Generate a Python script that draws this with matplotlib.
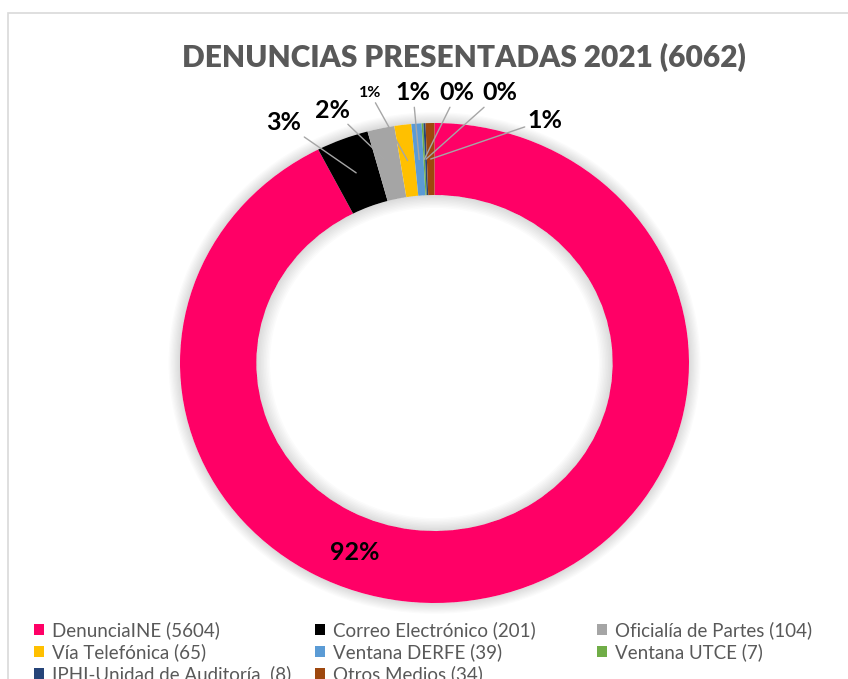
import matplotlib
matplotlib.use('Agg')
import numpy as np
import matplotlib.pyplot as plt
from matplotlib.patches import Wedge, Rectangle

# datos
categorias = ['DenunciaINE (5604)', 'Correo Electrónico (201)', 'Oficialía de Partes (104)',
              'Vía Telefónica (65)', 'Ventana DERFE (39)', 'Ventana UTCE (7)',
              'IPHI-Unidad de Auditoría  (8)', 'Otros Medios (34)']
valores = [5604, 201, 104, 65, 39, 7, 8, 34]
etiquetas = ['92%', '3%', '2%', '1%', '1%', '0%', '0%', '1%']
colores = ['#FF0066', '#000000', '#A5A5A5', '#FFC000', '#5B9BD5', '#70AD47', '#264478', '#9E480E']
titulo = 'DENUNCIAS PRESENTADAS 2021 (6062)'

# posicion de etiquetas (pixeles desde arriba-izquierda) y tamanos
pos_etiquetas = [(355, 553), (284, 123), (333, 110), (370, 93), (413, 93), (457, 93), (500, 93), (545, 120)]
tam_etiquetas = [18, 18, 18, 11.5, 18, 18, 18, 18]

W, H = 848, 679
plt.rcParams['font.family'] = ['Lato', 'DejaVu Sans']
fig = plt.figure(figsize=(W / 100, H / 100), dpi=100)
fig.patch.set_facecolor('white')

# borde del area del grafico
fig.add_artist(Rectangle((7.5 / W, -0.02), 1.1, 1 - 12.5 / H + 0.02, transform=fig.transFigure,
                         fill=False, edgecolor='#D9D9D9', lw=1.2))

ax = fig.add_axes([180 / W, (H - 603) / H, 509 / W, 480 / H])
wedges, _ = ax.pie(valores, colors=colores, startangle=90, counterclock=False, radius=1,
                   wedgeprops=dict(width=0.3, edgecolor='none'))
ax.set_aspect('auto')
ax.set_xlim(-1, 1)
ax.set_ylim(-1, 1)
ax.axis('off')

# sombra suave alrededor del anillo
for k in range(1, 10):
    ax.add_patch(Wedge((0, 0), 1.0 + k * 0.005, 0, 360, width=k * 0.005, clip_on=False,
                       facecolor='#000000', alpha=0.016, edgecolor='none', zorder=0))
for k in range(1, 10):
    ax.add_patch(Wedge((0, 0), 0.7, 0, 360, width=k * 0.006, clip_on=False,
                       facecolor='#000000', alpha=0.016, edgecolor='none', zorder=3))

# etiquetas de porcentaje con lineas guia
for i, w in enumerate(wedges):
    px, py = pos_etiquetas[i]
    fx, fy = px / W, 1 - py / H
    if i == 0:
        fig.text(fx, fy, etiquetas[i], ha='center', va='center', fontsize=tam_etiquetas[i],
                 fontweight='bold', color='black')
        continue
    ang = np.deg2rad((w.theta1 + w.theta2) / 2)
    ax.annotate(etiquetas[i], xy=(0.85 * np.cos(ang), 0.85 * np.sin(ang)), xycoords='data',
                xytext=(fx, fy), textcoords='figure fraction', ha='center', va='center',
                fontsize=tam_etiquetas[i], fontweight='bold', color='black',
                arrowprops=dict(arrowstyle='-', color='#A6A6A6', lw=1, shrinkA=0, shrinkB=0),
                annotation_clip=False)

fig.text(464 / W, 1 - 57 / H, titulo, ha='center', va='center', fontsize=21.5,
         fontweight='heavy', color='#595959')

# leyenda en tres columnas (orden por filas)
col_x = [34, 315, 597]
for c in range(3):
    idx = list(range(c, len(categorias), 3))
    leg = fig.legend([wedges[i] for i in idx], [categorias[i] for i in idx],
                     loc='upper left', bbox_to_anchor=(col_x[c] / W, 1 - 621 / H),
                     frameon=False, fontsize=13.5, handlelength=0.55, handleheight=0.55,
                     handletextpad=0.4, labelspacing=0.23, borderaxespad=0, borderpad=0)
    for t in leg.get_texts():
        t.set_color('#595959')

fig.savefig('out.png', dpi=100, facecolor='white')
